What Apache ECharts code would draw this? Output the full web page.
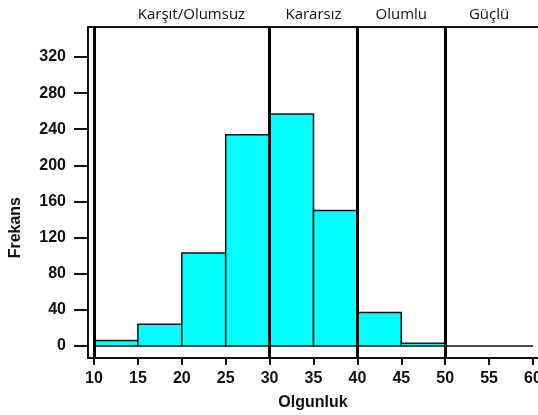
<!DOCTYPE html>
<html>
<head>
<meta charset="utf-8">
<script src="https://cdn.jsdelivr.net/npm/echarts@6/dist/echarts.min.js"></script>
<style>html,body{margin:0;padding:0;background:#fff;overflow:hidden;}#c{width:538px;height:415px;}</style>
</head>
<body>
<div id="c"></div>
<script>
// Histogram bins (Olgunluk) and frequencies (Frekans)
var binStarts = [10, 15, 20, 25, 30, 35, 40, 45, 50, 55];
var binEnds   = [15, 20, 25, 30, 35, 40, 45, 50, 55, 60];
var counts    = [6, 24, 103, 234, 257, 150, 37, 3, 0, 0];
// Axis ticks
var xTicks = [10, 15, 20, 25, 30, 35, 40, 45, 50, 55, 60];
var yTicks = [0, 40, 80, 120, 160, 200, 240, 280, 320];
// Category boundaries and top labels
var boundaries = [10, 30, 40, 50];
var regionCenters = [21.1, 35, 45, 55];
var regionLabels = ['Karşıt/Olumsuz', 'Kararsız', 'Olumlu', 'Güçlü'];

var data = binStarts.map(function (s, i) { return [s, binEnds[i], counts[i]]; });

var chart = echarts.init(document.getElementById('c'), null, { renderer: 'canvas' });
var FF = '"Liberation Sans", Arial, sans-serif';

chart.setOption({
  backgroundColor: '#fff',
  animation: false,
  grid: { left: 88, top: 27, right: 0, bottom: 57, containLabel: false, outerBoundsMode: 'none' },
  xAxis: [{
    type: 'value', position: 'bottom', min: 9.317, max: 60.57,
    name: 'Olgunluk', nameLocation: 'middle', nameGap: 37,
    nameTextStyle: { fontFamily: FF, fontWeight: 'bold', fontSize: 16, color: '#111' },
    axisLine: { show: true, onZero: false, lineStyle: { color: '#111', width: 2 } },
    axisTick: { show: true, customValues: xTicks, length: 7, lineStyle: { color: '#111', width: 2 } },
    axisLabel: { customValues: xTicks, margin: 13, fontFamily: FF, fontWeight: 'bold', fontSize: 16, color: '#111' },
    splitLine: { show: false }
  }, {
    type: 'value', position: 'top', min: 9.317, max: 60.57,
    axisLine: { show: true, onZero: false, lineStyle: { color: '#111', width: 2 } },
    axisTick: { show: false },
    axisLabel: {
      customValues: regionCenters, margin: 5,
      fontFamily: '"Open Sans", sans-serif', fontSize: 15, color: '#111',
      formatter: function (v) {
        var i = regionCenters.indexOf(v);
        return i >= 0 ? regionLabels[i] : '';
      }
    },
    splitLine: { show: false }
  }],
  yAxis: {
    type: 'value', min: -13.29, max: 353.2,
    axisLine: { show: true, onZero: false, lineStyle: { color: '#111', width: 2 } },
    axisTick: { show: true, customValues: yTicks, length: 14, lineStyle: { color: '#111', width: 2 } },
    axisLabel: { customValues: yTicks, margin: 22, fontFamily: FF, fontWeight: 'bold', fontSize: 16, color: '#111' },
    splitLine: { show: false }
  },
  graphic: [{
    type: 'text', left: 8, top: 197, rotation: Math.PI / 2,
    style: { text: 'Frekans', font: 'bold 16px "Liberation Sans", Arial, sans-serif', fill: '#111' }
  }],
  series: [{
    type: 'custom',
    xAxisIndex: 0,
    data: data,
    encode: { x: [0, 1], y: 2 },
    renderItem: function (params, api) {
      var p0 = api.coord([api.value(0), api.value(2)]);
      var p1 = api.coord([api.value(1), 0]);
      return {
        type: 'rect',
        shape: { x: p0[0], y: p0[1], width: p1[0] - p0[0], height: p1[1] - p0[1] },
        style: { fill: '#00FFFF', stroke: '#111', lineWidth: 1.5 }
      };
    },
    markLine: {
      silent: true, symbol: 'none', label: { show: false },
      lineStyle: { color: '#000', width: 3, type: 'solid' },
      data: boundaries.map(function (b) { return { xAxis: b }; })
    }
  }]
});
</script>
</body>
</html>
